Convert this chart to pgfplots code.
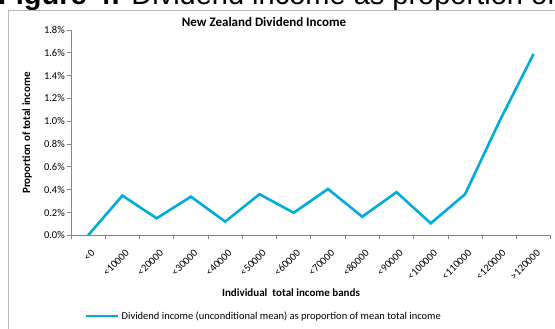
\documentclass[border=0pt]{standalone}
\usepackage{fontspec}
\setmainfont{Carlito}
\newfontfamily\arialfont{Liberation Sans}
\usepackage{pgfplots}
\pgfplotsset{compat=1.18}
\definecolor{serie}{RGB}{0,172,220}
\definecolor{axgray}{RGB}{134,134,134}
\begin{document}
\begin{tikzpicture}
\path[use as bounding box] (0pt,0pt) rectangle (555pt,329pt);
\begin{scope}
\clip (0pt,0pt) rectangle (555pt,329pt);
\node[anchor=base west, inner sep=0, font=\arialfont\fontsize{29}{33}\selectfont] at (-2pt,324.5pt) {\textbf{Figure 4:} Dividend income as proportion of};
\draw[gray!55, line width=0.8pt] (8.5pt,-10pt) -- (8.5pt,319pt) -- (600pt,319pt);
\end{scope}
\node[font=\bfseries\fontsize{13}{15}\selectfont] at (264pt,307pt) {New Zealand Dividend Income};
\begin{axis}[
  at={(71pt,93.7pt)}, anchor=south west,
  scale only axis, width=479.7pt, height=205.3pt,
  xmin=-0.5, xmax=13.5, ymin=0, ymax=1.8,
  axis x line*=bottom, axis y line*=left,
  axis line style={axgray, line width=0.9pt},
  xtick={0,...,13},
  xticklabels={{<0},{<10000},{<20000},{<30000},{<40000},{<50000},{<60000},{<70000},{<80000},{<90000},{<100000},{<110000},{<120000},{>120000}},
  major x tick style={draw=none},
  minor xtick={-0.5,0.5,...,13.5},
  minor tick length=4pt,
  minor x tick style={axgray, line width=0.8pt},
  ytick={0,0.2,...,1.8},
  major tick length=4pt,
  y tick style={axgray, line width=0.8pt},
  tick align=outside,
  yticklabel={\pgfmathprintnumber[fixed,fixed zerofill,precision=1]{\tick}\%},
  /pgf/number format/assume math mode=true,
  ticklabel style={font=\fontsize{10.5}{12}\selectfont},
  xticklabel style={rotate=45, anchor=east, inner sep=1pt, yshift=-12pt, xshift=-4pt},
  yticklabel style={inner sep=2pt},
  legend style={at={(axis description cs:0.029,-0.393)}, anchor=west, draw=none, fill=none, font=\fontsize{10.5}{12}\selectfont, inner sep=0pt},
  legend image code/.code={\draw[#1] (0pt,0pt) -- (32pt,0pt);},
  clip=false,
]
\addplot[serie, line width=2.6pt, line join=miter] coordinates {
(0,0.0) (1,0.348) (2,0.149) (3,0.339) (4,0.12) (5,0.36) (6,0.198) (7,0.406) (8,0.163) (9,0.378) (10,0.105) (11,0.36) (12,0.997) (13,1.59)};
\addlegendentry{Dividend income (unconditional mean) as proportion of mean total income}
\end{axis}
\node[font=\bfseries\fontsize{11}{13}\selectfont, rotate=90] at (27pt,196pt) {Proportion of total income};
\node[font=\bfseries\fontsize{11}{13}\selectfont] at (291pt,36pt) {Individual\ \ total income bands};
\end{tikzpicture}
\end{document}
